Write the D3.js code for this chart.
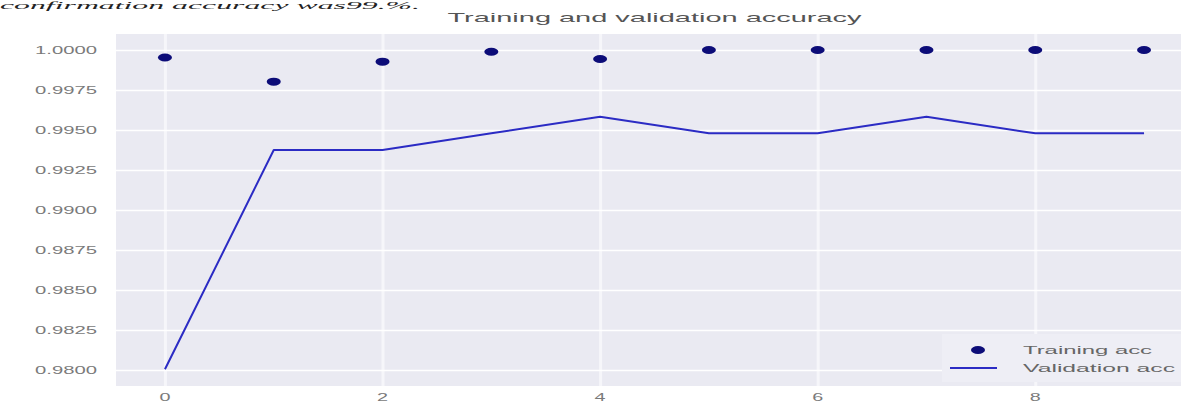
<!DOCTYPE html>
<html>
<head>
<meta charset="utf-8">
<script src="https://cdn.jsdelivr.net/npm/d3@7/dist/d3.min.js"></script>
<style>
  html, body { margin: 0; padding: 0; background: #ffffff; }
  svg { display: block; }
</style>
</head>
<body>
<svg id="chart" width="1181" height="403"></svg>
<script>
// Epochs and per-epoch accuracy
const epochs = [0, 1, 2, 3, 4, 5, 6, 7, 8, 9];
const trainingAcc = [0.99953, 0.99802, 0.99927, 0.99989, 0.99944, 1.0, 1.0, 1.0, 1.0, 1.0];
const validationAcc = [0.98005, 0.99375, 0.99375, 0.99479, 0.99583, 0.99479, 0.99479, 0.99583, 0.99479, 0.99479];

const xTicks = [0, 2, 4, 6, 8];
const yTicks = [0.98, 0.9825, 0.985, 0.9875, 0.99, 0.9925, 0.995, 0.9975, 1.0];

const titleText = "Training and validation accuracy";
const seriesNames = ["Training acc", "Validation acc"];
const captionText = "confirmation accuracy was99.%.";

const svg = d3.select("#chart");
const plot = { left: 116, right: 1193, top: 34, bottom: 386 };

const x = d3.scaleLinear().domain([-0.45, 9.45]).range([plot.left, plot.right]);
const y = d3.scaleLinear().domain([0.979, 1.001]).range([plot.bottom, plot.top]);

// Tail of the paragraph above the figure
svg.append("text")
  .attr("x", 0).attr("y", 9)
  .attr("font-family", "Liberation Serif, serif")
  .attr("font-style", "italic")
  .attr("font-size", 10)
  .attr("fill", "#222")
  .attr("textLength", 420)
  .attr("lengthAdjust", "spacingAndGlyphs")
  .text(captionText);

svg.append("defs").append("clipPath").attr("id", "plotclip")
  .append("rect")
  .attr("x", plot.left).attr("y", plot.top)
  .attr("width", plot.right - plot.left).attr("height", plot.bottom - plot.top);

// Axes background
svg.append("rect")
  .attr("x", plot.left).attr("y", plot.top)
  .attr("width", plot.right - plot.left).attr("height", plot.bottom - plot.top)
  .attr("fill", "#EAEAF2");

// Grid lines drawn via axes with full-length ticks
const gx = svg.append("g")
  .attr("transform", `translate(0,${plot.bottom})`)
  .call(d3.axisBottom(x).tickValues(xTicks).tickSize(-(plot.bottom - plot.top)).tickFormat(""));
gx.select(".domain").remove();
gx.selectAll("line").attr("stroke", "#f6f6fa").attr("stroke-width", 3);

const gy = svg.append("g")
  .attr("transform", `translate(${plot.left},0)`)
  .call(d3.axisLeft(y).tickValues(yTicks).tickSize(-(plot.right - plot.left)).tickFormat(""));
gy.select(".domain").remove();
gy.selectAll("line").attr("stroke", "#ffffff").attr("stroke-width", 1.4);

// Tick labels (the figure is horizontally stretched, so glyphs are widened)
svg.append("g").selectAll("text")
  .data(yTicks)
  .join("text")
  .attr("x", 97)
  .attr("y", d => y(d))
  .attr("dy", "0.36em")
  .attr("text-anchor", "end")
  .attr("font-family", "Liberation Sans, Arial, sans-serif")
  .attr("font-size", 11)
  .attr("fill", "#7a7a7a")
  .attr("textLength", 62)
  .attr("lengthAdjust", "spacingAndGlyphs")
  .text(d => d3.format(".4f")(d));

svg.append("g").selectAll("g")
  .data(xTicks)
  .join("g")
  .attr("transform", d => `translate(${x(d)},${397}) scale(1.8,1)`)
  .append("text")
  .attr("text-anchor", "middle")
  .attr("dy", "0.36em")
  .attr("font-family", "Liberation Sans, Arial, sans-serif")
  .attr("font-size", 11)
  .attr("fill", "#7a7a7a")
  .text(d => d);

// Title
svg.append("text")
  .attr("x", (plot.left + plot.right) / 2)
  .attr("y", 22)
  .attr("text-anchor", "middle")
  .attr("font-family", "Liberation Sans, Arial, sans-serif")
  .attr("font-size", 13)
  .attr("fill", "#555")
  .attr("textLength", 414)
  .attr("lengthAdjust", "spacingAndGlyphs")
  .text(titleText);

const marks = svg.append("g").attr("clip-path", "url(#plotclip)");

// Validation accuracy line
const line = d3.line().x((d, i) => x(epochs[i])).y(d => y(d));
marks.append("path")
  .datum(validationAcc)
  .attr("fill", "none")
  .attr("stroke", "#2b2bc4")
  .attr("stroke-width", 2)
  .attr("stroke-linejoin", "round")
  .attr("d", line);

// Training accuracy points
marks.selectAll("ellipse.train")
  .data(trainingAcc)
  .join("ellipse")
  .attr("class", "train")
  .attr("cx", (d, i) => x(epochs[i]))
  .attr("cy", d => y(d))
  .attr("rx", 7)
  .attr("ry", 4)
  .attr("fill", "#0c0c78");

// Legend
const lg = svg.append("g");
lg.append("rect")
  .attr("x", 942).attr("y", 334).attr("width", 245).attr("height", 48)
  .attr("fill", "#eeeef5");
lg.append("ellipse")
  .attr("cx", 978).attr("cy", 350).attr("rx", 7).attr("ry", 4)
  .attr("fill", "#0c0c78");
lg.append("line")
  .attr("x1", 950).attr("x2", 997).attr("y1", 368).attr("y2", 368)
  .attr("stroke", "#2b2bc4").attr("stroke-width", 2);
lg.selectAll("text")
  .data(seriesNames)
  .join("text")
  .attr("x", 1023)
  .attr("y", (d, i) => 350 + i * 18)
  .attr("dy", "0.36em")
  .attr("font-family", "Liberation Sans, Arial, sans-serif")
  .attr("font-size", 11)
  .attr("fill", "#666")
  .attr("textLength", (d, i) => i === 0 ? 129 : 152)
  .attr("lengthAdjust", "spacingAndGlyphs")
  .text(d => d);
</script>
</body>
</html>
